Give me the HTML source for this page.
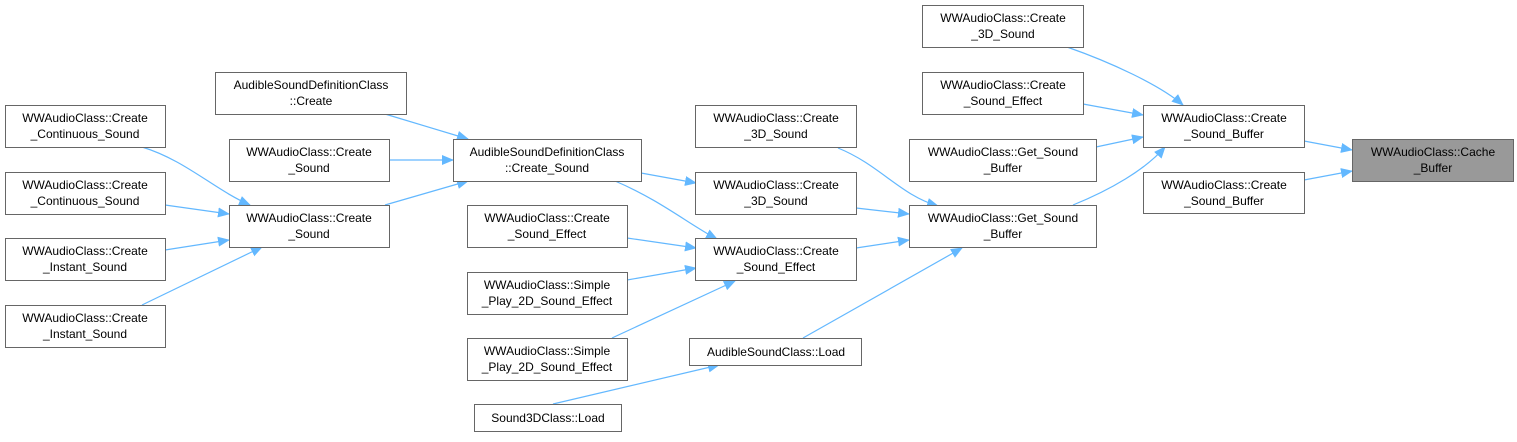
<!DOCTYPE html>
<html><head><meta charset="utf-8"><style>
html,body{margin:0;padding:0;background:#fff;}
svg text{font-family:"Liberation Sans",Arial,sans-serif;font-size:12px;fill:#000;text-anchor:middle;}
</style></head><body>
<svg width="1517" height="437" viewBox="0 0 1517 437" xmlns="http://www.w3.org/2000/svg">
<defs><marker id="a" markerWidth="12" markerHeight="10" refX="11" refY="5" orient="auto" markerUnits="userSpaceOnUse"><path d="M0,0 L12,5 L0,10 z" fill="#63b8ff"/></marker></defs>
<g fill="none" stroke="#63b8ff" stroke-width="1.2" marker-end="url(#a)">
<path d="M1304,141 L1352,150"/>
<path d="M1304,180 L1352,171"/>
<path d="M1067,47 C1110,62 1160,85 1183,105"/>
<path d="M1083,104 L1143,115"/>
<path d="M1096,147 L1143,137"/>
<path d="M1073,205 C1110,190 1145,170 1165,147"/>
<path d="M838,148 C880,165 900,195 938,206"/>
<path d="M856,208 L909,214"/>
<path d="M856,248 L909,240"/>
<path d="M803,338 L962,248"/>
<path d="M553,404 L719,365"/>
<path d="M641,173 L696,183"/>
<path d="M615,181 C660,200 690,225 717,239"/>
<path d="M627,238 L696,248"/>
<path d="M627,280 L696,268"/>
<path d="M612,338 L735,281"/>
<path d="M385,114 L468,139"/>
<path d="M389,160 L453,160"/>
<path d="M385,205 L468,181"/>
<path d="M142,147 C185,160 215,190 250,205"/>
<path d="M165,205 L229,214"/>
<path d="M165,250 L229,240"/>
<path d="M142,305 L262,247"/>
</g>
<g stroke="#666" stroke-width="1" fill="#fff">
<rect x="1352.5" y="139.5" width="161" height="42" fill="#999"/>
<rect x="1143.5" y="105.5" width="161" height="42"/>
<rect x="1143.5" y="172.5" width="161" height="41"/>
<rect x="922.5" y="5.5" width="161" height="42"/>
<rect x="922.5" y="72.5" width="161" height="42"/>
<rect x="909.5" y="139.5" width="187" height="42"/>
<rect x="909.5" y="205.5" width="187" height="42"/>
<rect x="695.5" y="105.5" width="161" height="42"/>
<rect x="695.5" y="172.5" width="161" height="42"/>
<rect x="695.5" y="238.5" width="161" height="42"/>
<rect x="689.5" y="338.5" width="172" height="27"/>
<rect x="474.5" y="404.5" width="147" height="27"/>
<rect x="453.5" y="139.5" width="188" height="42"/>
<rect x="215.5" y="72.5" width="191" height="42"/>
<rect x="229.5" y="139.5" width="160" height="42"/>
<rect x="229.5" y="205.5" width="160" height="42"/>
<rect x="467.5" y="205.5" width="160" height="42"/>
<rect x="467.5" y="272.5" width="160" height="42"/>
<rect x="467.5" y="338.5" width="160" height="42"/>
<rect x="5.5" y="105.5" width="160" height="42"/>
<rect x="5.5" y="172.5" width="160" height="42"/>
<rect x="5.5" y="238.5" width="160" height="42"/>
<rect x="5.5" y="305.5" width="160" height="42"/>
</g>
<g>
<text x="1433" y="156">WWAudioClass::Cache</text><text x="1433" y="172">_Buffer</text>
<text x="1224" y="122">WWAudioClass::Create</text><text x="1224" y="138">_Sound_Buffer</text>
<text x="1224" y="189">WWAudioClass::Create</text><text x="1224" y="205">_Sound_Buffer</text>
<text x="1003" y="22">WWAudioClass::Create</text><text x="1003" y="38">_3D_Sound</text>
<text x="1003" y="89">WWAudioClass::Create</text><text x="1003" y="105">_Sound_Effect</text>
<text x="1003" y="156">WWAudioClass::Get_Sound</text><text x="1003" y="172">_Buffer</text>
<text x="1003" y="222">WWAudioClass::Get_Sound</text><text x="1003" y="238">_Buffer</text>
<text x="776" y="122">WWAudioClass::Create</text><text x="776" y="138">_3D_Sound</text>
<text x="776" y="189">WWAudioClass::Create</text><text x="776" y="205">_3D_Sound</text>
<text x="776" y="255">WWAudioClass::Create</text><text x="776" y="271">_Sound_Effect</text>
<text x="776" y="356">AudibleSoundClass::Load</text>
<text x="548" y="422">Sound3DClass::Load</text>
<text x="547" y="156">AudibleSoundDefinitionClass</text><text x="547" y="172">::Create_Sound</text>
<text x="311" y="89">AudibleSoundDefinitionClass</text><text x="311" y="105">::Create</text>
<text x="309" y="156">WWAudioClass::Create</text><text x="309" y="172">_Sound</text>
<text x="309" y="222">WWAudioClass::Create</text><text x="309" y="238">_Sound</text>
<text x="547" y="222">WWAudioClass::Create</text><text x="547" y="238">_Sound_Effect</text>
<text x="547" y="289">WWAudioClass::Simple</text><text x="547" y="305">_Play_2D_Sound_Effect</text>
<text x="547" y="355">WWAudioClass::Simple</text><text x="547" y="371">_Play_2D_Sound_Effect</text>
<text x="85" y="122">WWAudioClass::Create</text><text x="85" y="138">_Continuous_Sound</text>
<text x="85" y="189">WWAudioClass::Create</text><text x="85" y="205">_Continuous_Sound</text>
<text x="85" y="255">WWAudioClass::Create</text><text x="85" y="271">_Instant_Sound</text>
<text x="85" y="322">WWAudioClass::Create</text><text x="85" y="338">_Instant_Sound</text>
</g>
</svg>
</body></html>
